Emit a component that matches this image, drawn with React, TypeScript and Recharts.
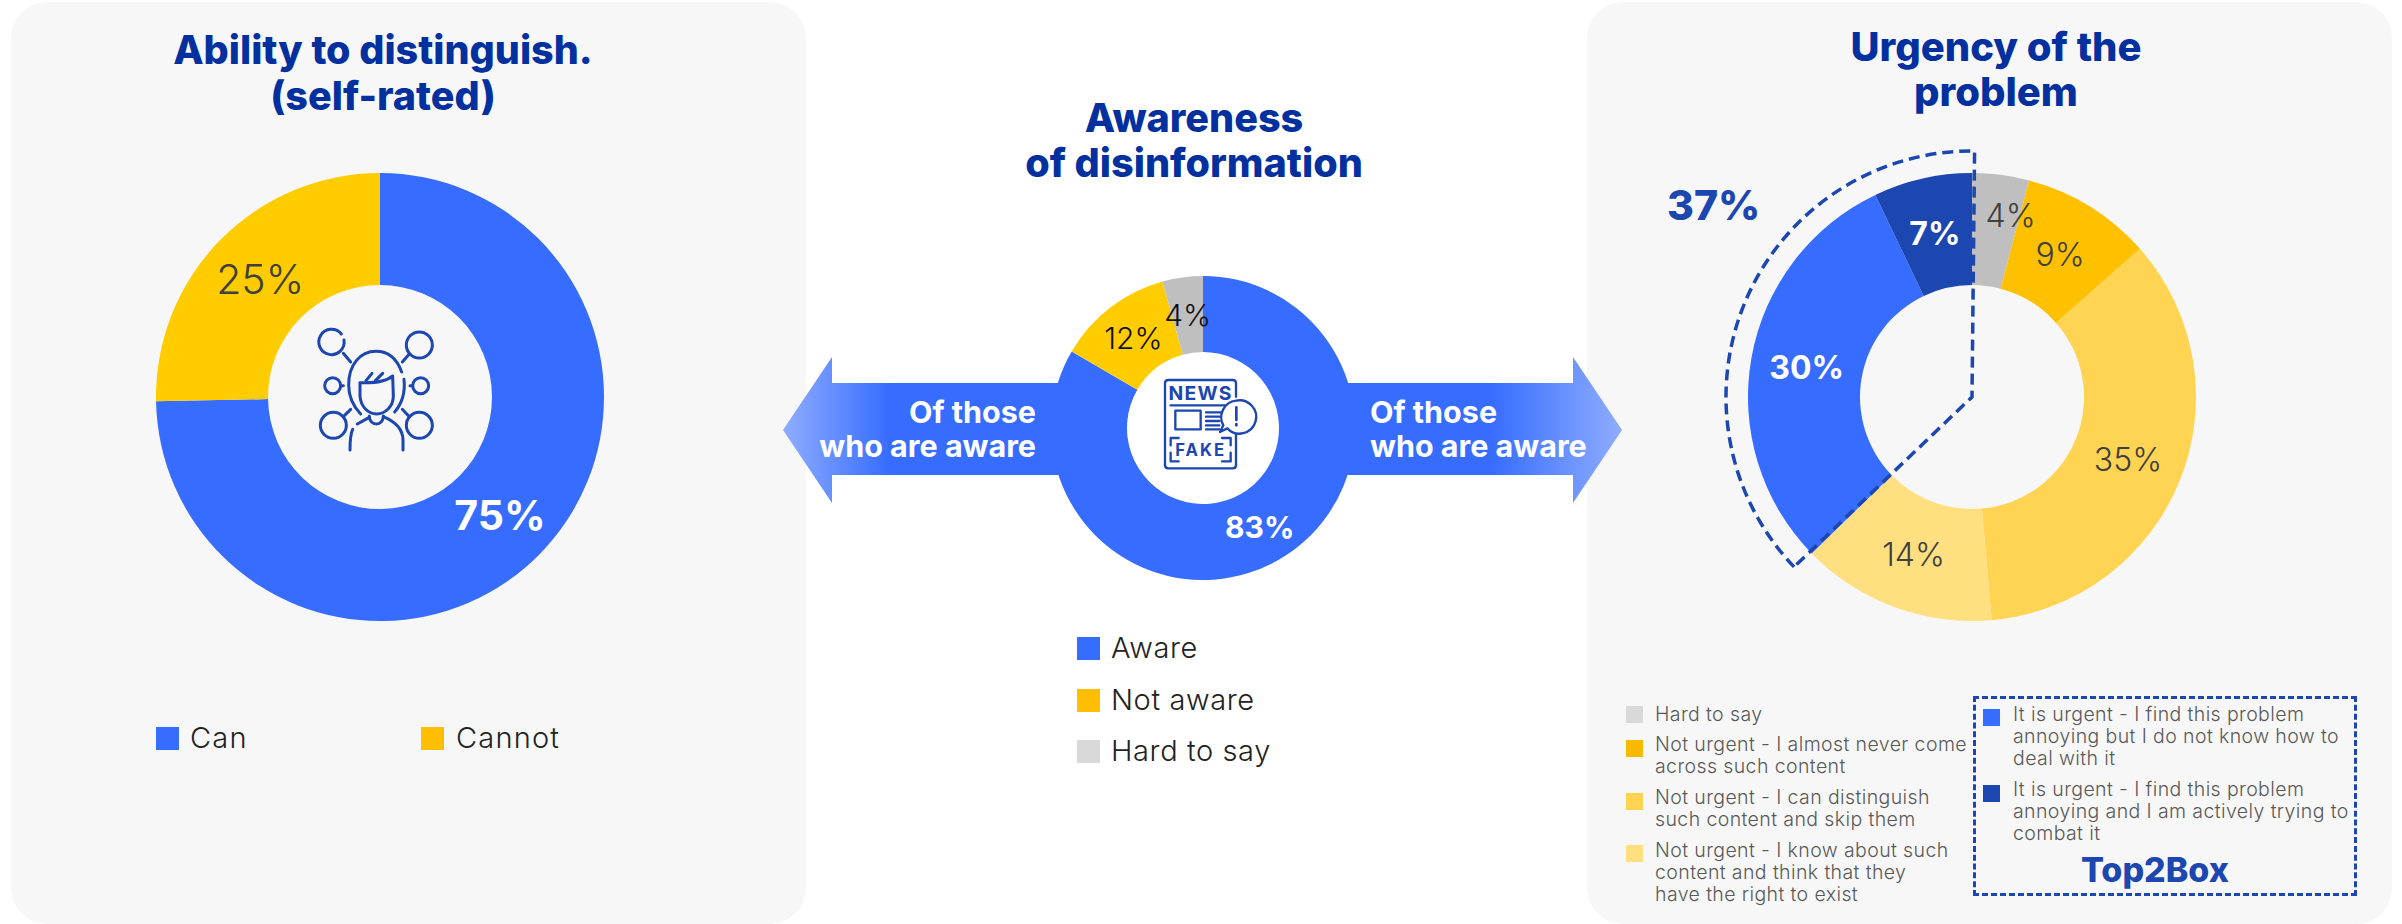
import React from "react";
import { PieChart, Pie, Cell } from "recharts";

const abilityNames = ["Can", "Cannot"];
const abilityValues = [74.7, 25.3];
const awarenessNames = ["Aware", "Not aware", "Hard to say"];
const awarenessValues = [83.4, 12.3, 4.3];
const urgencyNames = [
  "Hard to say",
  "Not urgent - I almost never come across such content",
  "Not urgent - I can distinguish such content and skip them",
  "Not urgent - I know about such content and think that they have the right to exist",
  "It is urgent - I find this problem annoying but I do not know how to deal with it",
  "It is urgent - I find this problem annoying and I am actively trying to combat it",
];
const urgencyValues = [4.1, 9.4, 35.1, 14.1, 30.2, 7.1];
const top2BoxValues = [62.7, 37.3];
const top2BoxTotal = "37%";

const FONT = "Inter, 'Open Sans', sans-serif";
const BLUE = "#366cff";
const NAVY = "#1c46b0";
const TITLE = "#03309f";
const abilityColors = [BLUE, "#ffcc00"];
const awarenessColors = [BLUE, "#ffcc00", "#bfbfbf"];
const urgencyColors = ["#bfbfbf", "#ffc000", "#ffd452", "#ffdf80", BLUE, NAVY];
const awarenessLegendColors = [BLUE, "#ffbf00", "#d9d9d9"];
const urgencyLegendColors = ["#d9d9d9", "#f8b900", "#ffd452", "#ffdf80", BLUE, NAVY];

const RAD = Math.PI / 180;

type LabelOpts = {
  size: number;
  colors: string[];
  weights: number[];
  nudge?: (i: number) => [number, number];
};

const makeLabel = (o: LabelOpts) => (p: any) => {
  const r = (p.innerRadius + p.outerRadius) / 2;
  const [nx, ny] = o.nudge ? o.nudge(p.index) : [0, 0];
  const x = p.cx + r * Math.cos(-p.midAngle * RAD) + nx;
  const y = p.cy + r * Math.sin(-p.midAngle * RAD) + ny;
  return (
    <text
      x={x}
      y={y}
      fill={o.colors[p.index]}
      fontSize={o.size}
      fontWeight={o.weights[p.index]}
      fontFamily={FONT}
      textAnchor="middle"
      dominantBaseline="central"
    >
      {Math.round(p.value)}%
    </text>
  );
};

const toRows = (names: string[], values: number[]) =>
  names.map((name, i) => ({ name, value: values[i] }));

const abs = (left: number, top: number): React.CSSProperties => ({
  position: "absolute",
  left,
  top,
});

const Title = ({ cx, top, lines, size, spacing }: { cx: number; top: number; lines: string[]; size: number; spacing: number }) => (
  <div
    style={{
      ...abs(cx - 300, top),
      width: 600,
      textAlign: "center",
      color: TITLE,
      fontFamily: FONT,
      fontWeight: 800,
      fontSize: size,
      lineHeight: `${spacing}px`,
      whiteSpace: "nowrap",
    }}
  >
    {lines.map((l) => (
      <div key={l}>{l}</div>
    ))}
  </div>
);

const Swatch = ({ x, y, w, h, color }: { x: number; y: number; w: number; h: number; color: string }) => (
  <div style={{ ...abs(x, y), width: w, height: h, background: color }} />
);

const LegendText = ({ x, cy, text, size, color, lh, spacing }: { x: number; cy: number; text: string[]; size: number; color: string; lh?: number; spacing?: number }) => (
  <div
    style={{
      ...abs(x, cy - (lh ?? 32) / 2),
      fontFamily: FONT,
      fontSize: size,
      fontWeight: 300,
      letterSpacing: spacing ?? 0,
      color,
      lineHeight: `${lh ?? 32}px`,
      whiteSpace: "nowrap",
    }}
  >
    {text.map((t) => (
      <div key={t}>{t}</div>
    ))}
  </div>
);

const Arrows = () => (
  <svg width={2402} height={924} style={abs(0, 0)}>
    <defs>
      <linearGradient id="gl" gradientUnits="userSpaceOnUse" x1={783} y1={0} x2={890} y2={0}>
        <stop offset="0" stopColor="#8fadff" />
        <stop offset="1" stopColor={BLUE} />
      </linearGradient>
      <linearGradient id="gr" gradientUnits="userSpaceOnUse" x1={1622} y1={0} x2={1490} y2={0}>
        <stop offset="0" stopColor="#8fadff" />
        <stop offset="1" stopColor={BLUE} />
      </linearGradient>
    </defs>
    <polygon points="783,430 832,357 832,383 1100,383 1100,475 832,475 832,503" fill="url(#gl)" />
    <polygon points="1622,430 1573,357 1573,383 1300,383 1300,475 1573,475 1573,503" fill="url(#gr)" />
  </svg>
);

const PersonIcon = () => (
  <svg
    width={160}
    height={160}
    viewBox="0 0 480 480"
    style={abs(300, 310)}
    fill="none"
    stroke={NAVY}
    strokeWidth={9}
    strokeLinecap="round"
    strokeLinejoin="round"
  >
    <path d="M124 72 A38 38 0 1 0 132 90" />
    <path d="M130 130 L152 156" />
    <circle cx="358" cy="105" r="39" />
    <path d="M328 132 L307 156" />
    <circle cx="98" cy="227" r="24" />
    <path d="M122 227 L130 227" />
    <circle cx="362" cy="227" r="24" />
    <path d="M338 227 L330 227" />
    <circle cx="100" cy="346" r="39" />
    <path d="M130 320 L152 298" />
    <circle cx="358" cy="346" r="39" />
    <path d="M328 320 L307 298" />
    <path d="M305 186 C290 145 262 124 228 124 C180 124 146 165 146 225 C146 258 156 285 182 312" />
    <path d="M312 208 C316 245 306 280 284 306" />
    <path d="M180 218 L180 258 C182 290 205 312 230 312 C255 312 280 290 280 258 L278 198 C262 212 235 220 180 218 Z" />
    <path d="M198 212 L216 190" />
    <path d="M226 212 L248 190" />
    <path d="M208 318 C208 350 250 350 250 318" />
    <path d="M172 342 L208 322" />
    <path d="M250 320 C285 335 309 355 309 390 L309 420" />
    <path d="M158 358 C150 375 150 395 150 420" />
  </svg>
);

const NewsIcon = () => (
  <svg
    width={140}
    height={130}
    viewBox="0 0 420 390"
    style={abs(1130, 360)}
    fill="none"
    stroke={NAVY}
    strokeWidth={7}
    strokeLinecap="round"
    strokeLinejoin="round"
  >
    <path d="M318 110 L318 70 Q318 60 308 60 L115 60 Q105 60 105 70 L105 315 Q105 325 115 325 L308 325 Q318 325 318 315 L318 222" />
    <path d="M122 136 L285 136" />
    <rect x="136" y="152" width="76" height="56" />
    <path d="M228 157 L272 157 M228 170 L268 170 M228 183 L268 183 M228 196 L268 196 M228 208 L268 208" />
    <path d="M318 122 A50 50 0 1 1 292 205 L270 216 L280 196 A50 50 0 0 1 318 122 Z" />
    <path d="M319 142 L319 180" strokeWidth={8} />
    <path d="M319 192 L319 196" strokeWidth={8} />
    <path d="M146 234 L122 234 L122 256 M276 234 L302 234 L302 256 M122 278 L122 304 L146 304 M302 278 L302 304 L276 304" />
    <text x="212" y="119" textAnchor="middle" fontFamily={FONT} fontWeight={700} fontSize={58} letterSpacing={4} fill={NAVY} stroke="none">NEWS</text>
    <text x="212" y="288" textAnchor="middle" fontFamily={FONT} fontWeight={700} fontSize={50} letterSpacing={6} fill={NAVY} stroke="none">FAKE</text>
  </svg>
);

export default function App() {
  return (
    <div style={{ position: "absolute", left: 0, top: 0, width: 2402, height: 924, background: "#fff", overflow: "hidden" }}>
      <div style={{ ...abs(11, 2), width: 795, height: 922, background: "#f7f7f7", borderRadius: 36 }} />
      <div style={{ ...abs(1587, 2), width: 805, height: 922, background: "#f7f7f7", borderRadius: 36 }} />

      <Arrows />

      <Title cx={383} top={27} lines={["Ability to distinguish.", "(self-rated)"]} size={39.5} spacing={46} />
      <Title cx={1194} top={96} lines={["Awareness", "of disinformation"]} size={39.6} spacing={45} />
      <Title cx={1996} top={24} lines={["Urgency of the", "problem"]} size={40} spacing={45} />

      <div style={abs(130, 145)}>
        <PieChart width={500} height={500} margin={{ top: 0, right: 0, bottom: 0, left: 0 }}>
          <Pie
            data={toRows(abilityNames, abilityValues)}
            dataKey="value"
            cx={250}
            cy={252}
            innerRadius={112}
            outerRadius={224}
            startAngle={90}
            endAngle={-270}
            labelLine={false}
            isAnimationActive={false}
            label={makeLabel({ size: 41, colors: ["#ffffff", "#404040"], weights: [700, 300] })}
          >
            {abilityValues.map((_, i) => (
              <Cell key={i} fill={abilityColors[i]} stroke="none" />
            ))}
          </Pie>
        </PieChart>
      </div>

      <div style={abs(1003, 228)}>
        <PieChart width={400} height={400} margin={{ top: 0, right: 0, bottom: 0, left: 0 }}>
          <Pie
            data={toRows(awarenessNames, awarenessValues)}
            dataKey="value"
            cx={200}
            cy={200}
            innerRadius={76}
            outerRadius={152}
            startAngle={90}
            endAngle={-270}
            labelLine={false}
            isAnimationActive={false}
            label={makeLabel({ size: 30, colors: ["#ffffff", "#111111", "#111111"], weights: [700, 300, 300] })}
          >
            {awarenessValues.map((_, i) => (
              <Cell key={i} fill={awarenessColors[i]} stroke="none" />
            ))}
          </Pie>
        </PieChart>
      </div>

      <div style={abs(1672, 97)}>
        <PieChart width={600} height={600} margin={{ top: 0, right: 0, bottom: 0, left: 0 }}>
          <Pie
            data={toRows(urgencyNames, urgencyValues)}
            dataKey="value"
            cx={300}
            cy={300}
            innerRadius={112}
            outerRadius={224}
            startAngle={90}
            endAngle={-270}
            labelLine={false}
            isAnimationActive={false}
            label={makeLabel({
              size: 32,
              colors: ["#404040", "#404040", "#404040", "#404040", "#ffffff", "#ffffff"],
              weights: [300, 300, 300, 300, 700, 700],
              nudge: (i) => (i === 0 ? [17, -15] : [0, 0]),
            })}
          >
            {urgencyValues.map((_, i) => (
              <Cell key={i} fill={urgencyColors[i]} stroke="none" />
            ))}
          </Pie>
          <Pie
            data={toRows(["Rest", "Top2Box"], top2BoxValues)}
            dataKey="value"
            cx={300}
            cy={300}
            innerRadius={0}
            outerRadius={246}
            startAngle={89.4}
            endAngle={-270.6}
            isAnimationActive={false}
          >
            <Cell fill="none" stroke="none" />
            <Cell fill="none" stroke={NAVY} strokeWidth={3.5} strokeDasharray="11 6" />
          </Pie>
        </PieChart>
      </div>

      <PersonIcon />
      <NewsIcon />

      <div style={{ ...abs(736, 395), width: 300, textAlign: "right", color: "#fff", fontFamily: FONT, fontWeight: 700, fontSize: 30.5, lineHeight: "34px", whiteSpace: "nowrap" }}>
        <div>Of those</div>
        <div>who are aware</div>
      </div>
      <div style={{ ...abs(1370, 395), width: 300, color: "#fff", fontFamily: FONT, fontWeight: 700, fontSize: 30.5, lineHeight: "34px", whiteSpace: "nowrap" }}>
        <div>Of those</div>
        <div>who are aware</div>
      </div>

      <Swatch x={156} y={727} w={23} h={23} color={abilityColors[0]} />
      <LegendText x={190} cy={738} text={[abilityNames[0]]} size={29} spacing={1.2} color="#222" />
      <Swatch x={421} y={727} w={23} h={23} color="#ffbf00" />
      <LegendText x={456} cy={738} text={[abilityNames[1]]} size={29} spacing={1.2} color="#222" />

      {awarenessNames.map((n, i) => (
        <React.Fragment key={n}>
          <Swatch x={1077} y={637 + i * 51.5} w={23} h={23} color={awarenessLegendColors[i]} />
          <LegendText x={1111} cy={648 + i * 51.5} text={[n]} size={29} spacing={0.6} color="#222" />
        </React.Fragment>
      ))}

      <div style={{ ...abs(1667, 177), color: NAVY, fontFamily: FONT, fontWeight: 800, fontSize: 41, lineHeight: "56px" }}>{top2BoxTotal}</div>

      <div style={{ ...abs(1973, 696), width: 384, height: 200, boxSizing: "border-box", border: `3px dashed ${NAVY}` }} />

      <Swatch x={1626} y={706} w={17} h={17} color={urgencyLegendColors[0]} />
      <LegendText x={1655} cy={714} text={["Hard to say"]} size={19.5} spacing={0.4} color="#595959" lh={22} />
      <Swatch x={1626} y={740} w={17} h={17} color={urgencyLegendColors[1]} />
      <LegendText x={1655} cy={744} text={["Not urgent - I almost never come", "across such content"]} size={19.5} spacing={0.4} color="#595959" lh={22} />
      <Swatch x={1626} y={793} w={17} h={17} color={urgencyLegendColors[2]} />
      <LegendText x={1655} cy={797} text={["Not urgent - I can distinguish", "such content and skip them"]} size={19.5} spacing={0.4} color="#595959" lh={22} />
      <Swatch x={1626} y={845} w={17} h={17} color={urgencyLegendColors[3]} />
      <LegendText x={1655} cy={850} text={["Not urgent - I know about such", "content and think that they", "have the right to exist"]} size={19.5} spacing={0.4} color="#595959" lh={22} />

      <Swatch x={1983} y={709} w={17} h={17} color={urgencyLegendColors[4]} />
      <LegendText x={2013} cy={714} text={["It is urgent - I find this problem", "annoying but I do not know how to", "deal with it"]} size={19.5} spacing={0.4} color="#595959" lh={22} />
      <Swatch x={1983} y={785} w={17} h={17} color={urgencyLegendColors[5]} />
      <LegendText x={2013} cy={789} text={["It is urgent - I find this problem", "annoying and I am actively trying to", "combat it"]} size={19.5} spacing={0.4} color="#595959" lh={22} />

      <div style={{ ...abs(1973, 850), width: 364, textAlign: "center", color: NAVY, fontFamily: FONT, fontWeight: 800, fontSize: 34, lineHeight: "40px" }}>Top2Box</div>
    </div>
  );
}
